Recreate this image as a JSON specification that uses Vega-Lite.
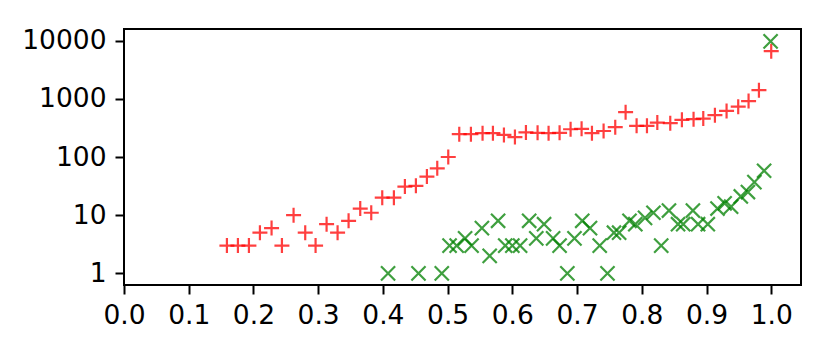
{
  "$schema": "https://vega.github.io/schema/vega-lite/v6.json",
  "autosize": {"type": "none"},
  "padding": {"left": 124, "top": 29, "right": 29, "bottom": 65},
  "width": 677,
  "height": 256,
  "background": "white",
  "config": {
    "view": {"stroke": "black", "strokeWidth": 2},
    "font": "DejaVu Sans",
    "axis": {
      "domain": false,
      "grid": false,
      "ticks": true,
      "tickColor": "black",
      "tickWidth": 2,
      "tickSize": 9,
      "labelFont": "DejaVu Sans",
      "labelFontSize": 26.5,
      "labelColor": "black",
      "title": null
    }
  },
  "datasets": {
    "red": [
      {"x": 0.159, "y": 3}, {"x": 0.176, "y": 3}, {"x": 0.193, "y": 3}, {"x": 0.210, "y": 5},
      {"x": 0.228, "y": 6}, {"x": 0.244, "y": 3}, {"x": 0.262, "y": 10}, {"x": 0.280, "y": 5},
      {"x": 0.296, "y": 3}, {"x": 0.313, "y": 7}, {"x": 0.330, "y": 5}, {"x": 0.347, "y": 8},
      {"x": 0.365, "y": 13}, {"x": 0.382, "y": 11}, {"x": 0.399, "y": 20}, {"x": 0.417, "y": 20},
      {"x": 0.434, "y": 31}, {"x": 0.451, "y": 32}, {"x": 0.468, "y": 46}, {"x": 0.484, "y": 64},
      {"x": 0.501, "y": 100}, {"x": 0.518, "y": 247}, {"x": 0.536, "y": 247}, {"x": 0.554, "y": 257},
      {"x": 0.570, "y": 257}, {"x": 0.587, "y": 240}, {"x": 0.604, "y": 220}, {"x": 0.621, "y": 264},
      {"x": 0.639, "y": 260}, {"x": 0.656, "y": 257}, {"x": 0.673, "y": 260}, {"x": 0.690, "y": 300},
      {"x": 0.707, "y": 305}, {"x": 0.723, "y": 257}, {"x": 0.741, "y": 280}, {"x": 0.759, "y": 325},
      {"x": 0.775, "y": 590}, {"x": 0.792, "y": 343}, {"x": 0.808, "y": 343}, {"x": 0.824, "y": 390},
      {"x": 0.844, "y": 381}, {"x": 0.862, "y": 436}, {"x": 0.880, "y": 447}, {"x": 0.895, "y": 458},
      {"x": 0.913, "y": 524}, {"x": 0.931, "y": 619}, {"x": 0.949, "y": 733}, {"x": 0.965, "y": 915},
      {"x": 0.981, "y": 1410}, {"x": 1.000, "y": 6600}
    ],
    "green": [
      {"x": 0.408, "y": 1}, {"x": 0.455, "y": 1}, {"x": 0.491, "y": 1}, {"x": 0.503, "y": 3},
      {"x": 0.514, "y": 3}, {"x": 0.527, "y": 4}, {"x": 0.537, "y": 3}, {"x": 0.553, "y": 6},
      {"x": 0.565, "y": 2}, {"x": 0.578, "y": 8}, {"x": 0.589, "y": 3}, {"x": 0.600, "y": 3},
      {"x": 0.612, "y": 3}, {"x": 0.626, "y": 8}, {"x": 0.637, "y": 4}, {"x": 0.649, "y": 7},
      {"x": 0.663, "y": 4}, {"x": 0.673, "y": 3}, {"x": 0.685, "y": 1}, {"x": 0.696, "y": 4},
      {"x": 0.708, "y": 8}, {"x": 0.720, "y": 6}, {"x": 0.735, "y": 3}, {"x": 0.747, "y": 1},
      {"x": 0.757, "y": 5}, {"x": 0.765, "y": 5}, {"x": 0.781, "y": 8}, {"x": 0.790, "y": 7},
      {"x": 0.805, "y": 9}, {"x": 0.818, "y": 11}, {"x": 0.830, "y": 3}, {"x": 0.842, "y": 12},
      {"x": 0.856, "y": 7}, {"x": 0.864, "y": 7}, {"x": 0.879, "y": 12}, {"x": 0.887, "y": 7},
      {"x": 0.902, "y": 7}, {"x": 0.917, "y": 13}, {"x": 0.928, "y": 16}, {"x": 0.938, "y": 14},
      {"x": 0.953, "y": 21}, {"x": 0.964, "y": 25}, {"x": 0.974, "y": 37}, {"x": 0.989, "y": 58},
      {"x": 0.999, "y": 9700}
    ]
  },
  "encoding": {
    "x": {
      "field": "x", "type": "quantitative",
      "scale": {"domain": [0, 1.046], "nice": false, "zero": false},
      "axis": {"values": [0, 0.1, 0.2, 0.3, 0.4, 0.5, 0.6, 0.7, 0.8, 0.9, 1.0], "format": ".1f", "labelPadding": 8, "labelFlush": false}
    },
    "y": {
      "field": "y", "type": "quantitative",
      "scale": {"type": "log", "domain": [0.631, 15849], "nice": false},
      "axis": {"values": [1, 10, 100, 1000, 10000], "format": "d", "labelPadding": 9}
    }
  },
  "layer": [
    {
      "data": {"name": "red"},
      "mark": {
        "type": "point",
        "shape": "M-1,0L1,0M0,-1L0,1",
        "filled": false,
        "stroke": "#ff0000",
        "strokeWidth": 2.2,
        "opacity": 0.75,
        "size": 225
      }
    },
    {
      "data": {"name": "green"},
      "mark": {
        "type": "point",
        "shape": "M-1,-1L1,1M-1,1L1,-1",
        "filled": false,
        "stroke": "#008000",
        "strokeWidth": 2.2,
        "opacity": 0.75,
        "size": 200
      }
    }
  ]
}
